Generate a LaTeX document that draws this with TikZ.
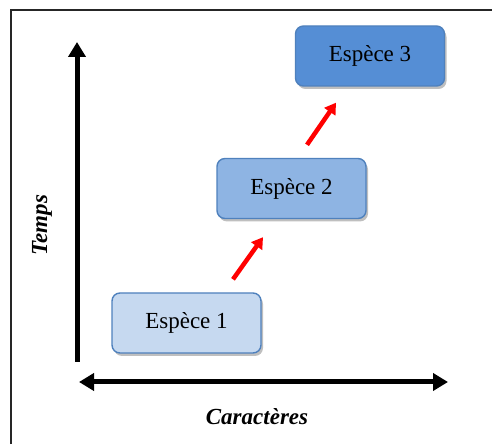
\documentclass[tikz,border=0pt]{standalone}
\usepackage{fontspec}
\setmainfont{Liberation Serif}
\usepackage{xcolor}
\usepackage{tikz}
\usetikzlibrary{arrows.meta, shadows}
\definecolor{boxline}{RGB}{79,129,189}
\definecolor{blueA}{RGB}{198,217,240}
\definecolor{blueB}{RGB}{142,180,227}
\definecolor{blueC}{RGB}{85,142,213}

\begin{document}
\begin{tikzpicture}[x=1pt, y=1pt,
  espece/.style={draw=boxline, line width=1.4pt, rounded corners=8pt,
    minimum width=149pt, minimum height=60pt, font=\fontsize{23}{25}\selectfont,
    drop shadow={shadow xshift=2pt, shadow yshift=-3pt, opacity=0.25, fill=black}},
  axe/.style={line width=5pt},
  tete/.tip={Triangle[length=15pt,width=17pt]},
  evol/.style={-{Triangle[length=11pt,width=13pt]}, red, line width=4.5pt}
]
\useasboundingbox (0,0) rectangle (492,444);
% --- cadre ---
\draw[line width=1.5pt, black!85] (11,0) -- (11,434) -- (492,434);
% --- axes ---
\coordinate (O) at (77,82);
\coordinate (T) at (77,402);
\coordinate (Cg) at (79,62);
\coordinate (Cd) at (448,62);
\draw[axe, -tete] (O) -- (T);
\draw[axe, tete-tete] (Cg) -- (Cd);
\node[rotate=90, font=\fontsize{23}{25}\selectfont\bfseries\itshape] (temps) at (42,219) {Temps};
\node[font=\fontsize{23}{25}\selectfont\bfseries\itshape] (carac) at (257,27) {Caractères};
% --- especes ---
\node[espece, fill=blueA] (e1) at (186.5,121) {Espèce 1};
\node[espece, fill=blueB] (e2) at (291.5,255.5) {Espèce 2};
\node[espece, fill=blueC] (e3) at (370,388) {Espèce 3};
\draw[evol] ([xshift=46.5pt, yshift=13pt]e1.north) -- ([xshift=-28.5pt, yshift=-18pt]e2.south);
\draw[evol] ([xshift=15.5pt, yshift=13pt]e2.north) -- ([xshift=-34pt, yshift=-16pt]e3.south);
\end{tikzpicture}
\end{document}
